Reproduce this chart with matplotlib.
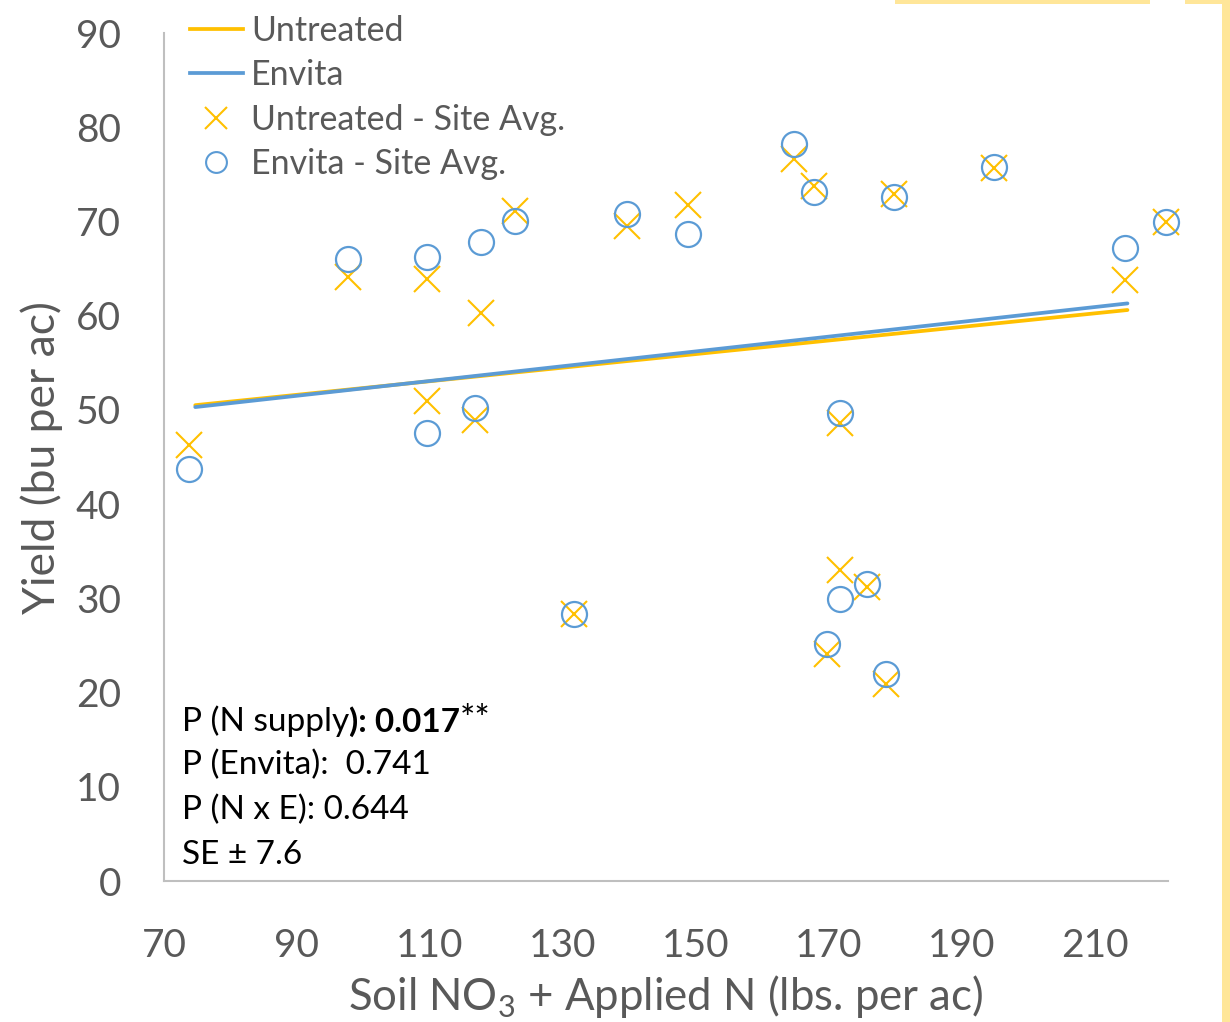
import matplotlib
matplotlib.use('Agg')
import matplotlib.pyplot as plt
from matplotlib.lines import Line2D
from matplotlib.patches import Rectangle

plt.rcParams['font.family'] = 'Lato'
plt.rcParams['mathtext.fontset'] = 'custom'
plt.rcParams['mathtext.rm'] = 'Lato'

#%% data
n_supply = [73.8, 97.7, 109.6, 109.6, 116.8, 117.7, 122.8, 131.7, 139.7, 148.8, 164.7,
            167.8, 169.7, 171.7, 171.7, 175.8, 178.6, 179.8, 194.8, 214.5, 220.7]
untreated = [46.3, 64.1, 63.9, 50.9, 48.9, 60.3, 71.1, 28.3, 69.5, 71.7, 76.6,
             73.8, 24.1, 48.6, 33.0, 31.2, 20.9, 72.9, 75.7, 63.8, 69.9]
envita = [43.7, 66.0, 66.2, 47.6, 50.2, 67.8, 70.1, 28.3, 70.8, 68.7, 78.2,
          73.1, 25.2, 49.7, 29.9, 31.5, 22.0, 72.6, 75.8, 67.2, 69.9]

trend_x = [74.7, 214.9]
trend_untreated = [50.5, 60.6]
trend_envita = [50.3, 61.3]

stats = ['P (Envita):  0.741', 'P (N x E): 0.644', 'SE \u00b1 7.6']

yellow = '#FFC000'
blue = '#5B9BD5'
grey = '#595959'

#%%
W, H = 1230, 1022
fig = plt.figure(figsize=(W / 100, H / 100), dpi=100)
ax = fig.add_axes([164 / W, 1 - 881 / H, (1168 - 164) / W, (881 - 33) / H])

ax.plot(trend_x, trend_untreated, color=yellow, lw=2.7, solid_capstyle='round', zorder=2)
ax.plot(trend_x, trend_envita, color=blue, lw=2.7, solid_capstyle='round', zorder=2)
ax.plot(n_supply, untreated, ls='none', marker='x', ms=19, mew=1.5, color=yellow,
        clip_on=False, zorder=3)
ax.plot(n_supply, envita, ls='none', marker='o', ms=18, mew=1.6, mfc='none', mec=blue,
        clip_on=False, zorder=4)

ax.set_xlim(70, 221)
ax.set_ylim(0, 90)
ax.set_xticks(range(70, 211, 20))
ax.set_yticks(range(0, 91, 10))
for s in ['top', 'right']:
    ax.spines[s].set_visible(False)
for s in ['left', 'bottom']:
    ax.spines[s].set_color('#BFBFBF')
    ax.spines[s].set_linewidth(1.5)
ax.tick_params(length=0, labelsize=28, labelcolor=grey)
ax.tick_params(axis='x', pad=34)
ax.tick_params(axis='y', pad=31)

fig.text(42 / W, 1 - 458 / H, 'Yield (bu per ac)', rotation=90, fontsize=32,
         color=grey, ha='center', va='center')
fig.text(666 / W, 1 - 1010 / H, 'Soil NO$_{\\mathregular{3}}$ + Applied N (lbs. per ac)',
         fontsize=31.5, color=grey, ha='center', va='baseline')

# legend
handles = [Line2D([], [], color=yellow, lw=2.7),
           Line2D([], [], color=blue, lw=2.7),
           Line2D([], [], ls='none', marker='x', ms=16, mew=1.5, color=yellow),
           Line2D([], [], ls='none', marker='o', ms=15, mew=1.5, mfc='none', mec=blue)]
labels = ['Untreated', 'Envita', 'Untreated - Site Avg.', 'Envita - Site Avg.']
fig.legend(handles, labels, loc='upper left', bbox_to_anchor=(190 / W, 1 - 15 / H),
           frameon=False, fontsize=24.5, labelcolor=grey, borderpad=0, borderaxespad=0,
           handlelength=1.55, handletextpad=0.25, labelspacing=0.36)

# stats box
t1 = fig.text(182 / W, 1 - 721 / H, 'P (N supply', fontsize=24, color='k', va='center')
t2 = ax.annotate('): 0.017', xy=(1, 0), xycoords=t1, va='bottom', ha='left',
                 fontsize=24, fontweight='bold', color='k')
ax.annotate('**', xy=(1, 0), xycoords=t2, va='bottom', ha='left', fontsize=26, color='k')
for i, s in enumerate(stats):
    fig.text(182 / W, 1 - (765 + 45 * i) / H, s, fontsize=24, color='k', va='center')

# slide background bits at the edge
for (x0, y0, w, h) in [(895, 0, 255, 4), (1185, 0, 45, 4), (1222, 0, 8, 1022)]:
    fig.patches.append(Rectangle((x0 / W, 1 - (y0 + h) / H), w / W, h / H,
                                 transform=fig.transFigure, color='#FFE699', lw=0))

fig.savefig('out.png', dpi=100)
